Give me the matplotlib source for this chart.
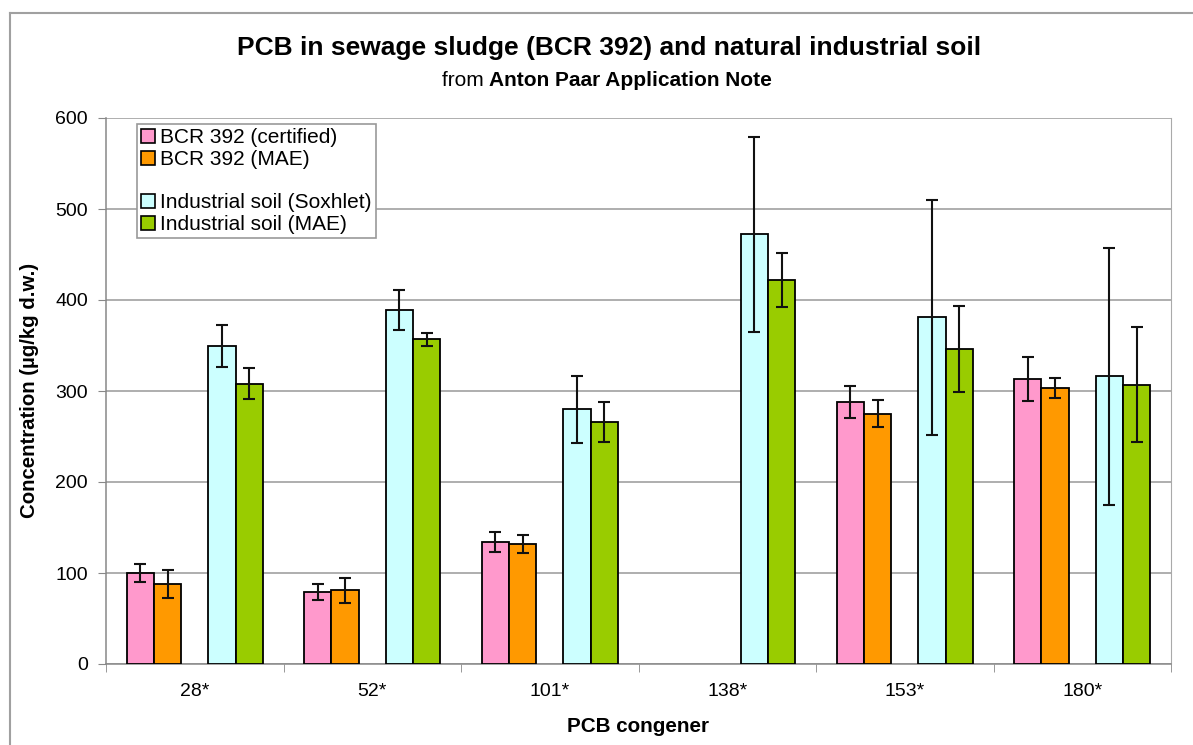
import numpy as np
import matplotlib
matplotlib.use("Agg")
import matplotlib.pyplot as plt
from matplotlib.patches import Patch
from matplotlib.lines import Line2D

plt.rcParams['font.family'] = ['Liberation Sans', 'DejaVu Sans']

categories = ["28*", "52*", "101*", "138*", "153*", "180*"]
series_names = ["BCR 392 (certified)", "BCR 392 (MAE)",
                "Industrial soil (Soxhlet)", "Industrial soil (MAE)"]
bcr_certified = [100, 79, 134, np.nan, 288, 313]
bcr_certified_err = [10, 9, 11, np.nan, 18, 24]
bcr_mae = [88, 81, 132, np.nan, 275, 303]
bcr_mae_err = [15, 14, 10, np.nan, 15, 11]
soil_soxhlet = [349, 389, 280, 472, 381, 316]
soil_soxhlet_err = [23, 22, 37, 107, 129, 141]
soil_mae = [308, 357, 266, 422, 346, 307]
soil_mae_err = [17, 7, 22, 30, 47, 63]
colors = ["#FF99CC", "#FF9900", "#CCFFFF", "#99CC00"]

W, H = 1193, 745
fig = plt.figure(figsize=(W / 100, H / 100), dpi=100)
fig.patch.set_facecolor("white")

# outer chart border (top and left visible)
fig.add_artist(Line2D([10 / W, 1.0], [1 - 13 / H, 1 - 13 / H], color="#A0A0A0", lw=1.5))
fig.add_artist(Line2D([10 / W, 10 / W], [1 - 13 / H, 0], color="#A0A0A0", lw=1.5))

L, R, T, B = 106, 1171, 118, 664
ax = fig.add_axes([L / W, 1 - B / H, (R - L) / W, (B - T) / H])

x = np.arange(len(categories))
w = 0.1532
values = [bcr_certified, bcr_mae, soil_soxhlet, soil_mae]
errs = [bcr_certified_err, bcr_mae_err, soil_soxhlet_err, soil_mae_err]
offsets = [-2, -1, 1, 2]
for vals, er, off, c, name in zip(values, errs, offsets, colors, series_names):
    ax.bar(x + off * w, vals, width=w, color=c, edgecolor="black", linewidth=1.3,
           zorder=3, label=name)
    ax.errorbar(x + off * w, vals, yerr=er, fmt="none", ecolor="#111111",
                elinewidth=1.5, capsize=4.3, capthick=1.5, zorder=4)

ax.set_xlim(-0.5, len(categories) - 0.5)
ax.set_ylim(0, 600)
ax.set_yticks(np.arange(0, 601, 100))
ax.yaxis.grid(True, color="#999999", lw=1.1, zorder=0)
ax.set_axisbelow(True)
ax.set_xticks(x)
ax.set_xticklabels(categories)
ax.set_xticks(np.arange(-0.5, len(categories)), minor=True)
ax.tick_params(axis="x", which="major", length=0, pad=14, labelsize=14)
ax.tick_params(axis="x", which="minor", length=6, direction="out", color="#888888")
ax.tick_params(axis="y", length=6, direction="out", color="#888888", pad=7, labelsize=14)
for s in ["left", "bottom"]:
    ax.spines[s].set_color("#888888")
    ax.spines[s].set_linewidth(1.1)
ax.spines["right"].set_color("#AAAAAA")
ax.spines["top"].set_visible(False)

# legend with blank separator entry
handles = [Patch(facecolor=colors[0], edgecolor="black", lw=1.2),
           Patch(facecolor=colors[1], edgecolor="black", lw=1.2),
           Patch(facecolor="none", edgecolor="none"),
           Patch(facecolor=colors[2], edgecolor="black", lw=1.2),
           Patch(facecolor=colors[3], edgecolor="black", lw=1.2)]
labels = [series_names[0], series_names[1], " ", series_names[2], series_names[3]]
leg = fig.legend(handles, labels, loc="upper left",
                 bbox_to_anchor=(137 / W, 1 - 124 / H), fontsize=15,
                 frameon=True, fancybox=False, framealpha=1, edgecolor="#999999",
                 handlelength=0.65, handleheight=0.65, handletextpad=0.25,
                 labelspacing=0.13, borderpad=0.2, borderaxespad=0)
leg.get_frame().set_linewidth(1.2)
leg.set_zorder(10)

fig.text(609 / W, 1 - 48 / H, "PCB in sewage sludge (BCR 392) and natural industrial soil",
         ha="center", va="center", fontsize=19, fontweight="bold")

# subtitle with mixed weights
t1 = fig.text(0, 1 - 80 / H, "from ", ha="left", va="center", fontsize=15)
t2 = fig.text(0, 1 - 80 / H, "Anton Paar Application Note", ha="left", va="center",
              fontsize=15, fontweight="bold")
fig.canvas.draw()
r = fig.canvas.get_renderer()
w1 = t1.get_window_extent(r).width
w2 = t2.get_window_extent(r).width
start = 607 - (w1 + w2) / 2
t1.set_x(start / W)
t2.set_x((start + w1) / W)

fig.text(30 / W, 1 - 390 / H, "Concentration (µg/kg d.w.)", rotation=90,
         ha="center", va="center", fontsize=14.7, fontweight="bold")
fig.text(638 / W, 1 - 727 / H, "PCB congener", ha="center", va="center",
         fontsize=14.9, fontweight="bold")

fig.savefig("out.png", dpi=100)
